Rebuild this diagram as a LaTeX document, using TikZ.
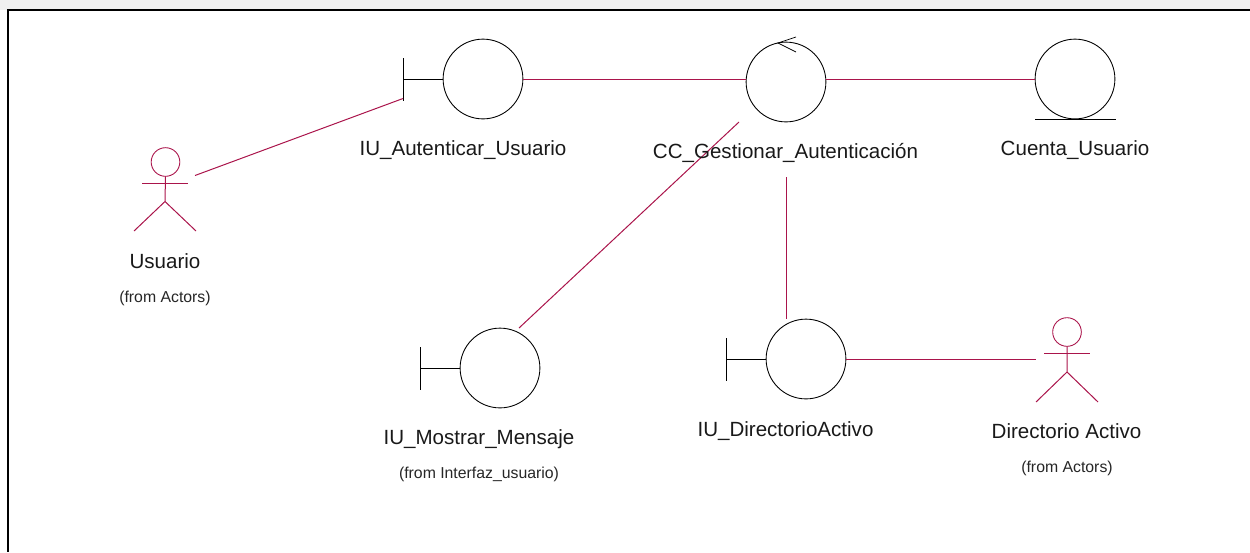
\documentclass[tikz,border=0pt]{standalone}
\usepackage{fontspec}
\setmainfont{Liberation Sans}
\definecolor{linkred}{RGB}{170,20,75}
\tikzset{
    link/.style={draw=linkred,line width=0.57pt},
    stickman/.style={circle,draw=linkred,line width=0.5pt,minimum size=16.3pt,inner sep=0pt,outer sep=0pt},
    lifeline/.style={circle,draw,line width=0.5pt,minimum size=45.4pt,inner sep=0pt,outer sep=0pt},
    umlname/.style={anchor=base,font=\fontsize{11.7}{14}\selectfont,text=black!90},
    umlfrom/.style={anchor=base,font=\fontsize{9}{11}\selectfont,text=black!85}
}
\begin{document}
\begin{tikzpicture}[x=0.02cm,y=-0.02cm]
    \useasboundingbox(0,0)rectangle(1250,552);
    \fill[black!6](0,0)rectangle(1250,10);
    \draw[line width=1.1pt](1250,10)--(8,10)--(8,552);
    % actors
    \node[stickman](usuario)at(165.5,162){};
    \draw[link](usuario.south)--(165,201.5)--(134,231);
    \draw[link](165,201.5)--(196,231);
    \draw[link](142,183.4)--(188,183.4);
    \node[stickman](directorio)at(1067,332){};
    \draw[link](directorio.south)--(1067,372)--(1036,402);
    \draw[link](1067,372)--(1098,402);
    \draw[link](1044,353.4)--(1090,353.4);
    % boundaries and classes
    \node[lifeline](autenticar)at(483,79){};
    \draw(autenticar.west)--(403,79);
    \draw(403,58)--(403,101);
    \node[lifeline](gestionar)at(786,82){};
    \draw(796,37)--(778,43)--(796,52);
    \node[lifeline](cuenta)at(1075,79){};
    \draw(1035,119)--(1116,119);
    \node[lifeline](mostrar)at(500,368){};
    \draw(mostrar.west)--(420,368);
    \draw(420,347)--(420,390);
    \node[lifeline](activo)at(806,359){};
    \draw(activo.west)--(726,359);
    \draw(726,338)--(726,381);
    % free ends
    \coordinate(usuarioEnd)at(195,175.5);
    \coordinate(autenticarEnd)at(403,98.5);
    \coordinate(gestionarEnd)at(739,122);
    \coordinate(mostrarEnd)at(519,328);
    \coordinate(gestionarDown)at(786,177);
    \coordinate(activoUp)at(786,319);
    \coordinate(directorioEnd)at(1036,359);
    \draw[link](usuarioEnd)--(autenticarEnd);
    \draw[link](autenticar.east)--(gestionar.west|-autenticar.east);
    \draw[link](gestionar.east|-cuenta.west)--(cuenta.west);
    \draw[link](gestionarEnd)--(mostrarEnd);
    \draw[link](gestionarDown)--(activoUp);
    \draw[link](activo.east)--(directorioEnd);
    % labels
    \node[umlname](lblAutenticar)at(463,155){IU\_Autenticar\_Usuario};
    \node[umlname](lblGestionar)at(785.5,158){CC\_Gestionar\_Autenticación};
    \node[umlname](lblCuenta)at(1075,155){Cuenta\_Usuario};
    \node[umlname](lblUsuario)at(165,268){Usuario};
    \node[umlfrom](lblUsuarioFrom)at(165,302){(from Actors)};
    \node[umlname](lblMostrar)at(479,444){IU\_Mostrar\_Mensaje};
    \node[umlfrom](lblMostrarFrom)at(479,478){(from Interfaz\_usuario)};
    \node[umlname](lblActivo)at(785.5,436){IU\_DirectorioActivo};
    \node[umlname](lblDirectorio)at(1066.5,438){Directorio Activo};
    \node[umlfrom](lblDirectorioFrom)at(1067,472){(from Actors)};
\end{tikzpicture}
\end{document}
